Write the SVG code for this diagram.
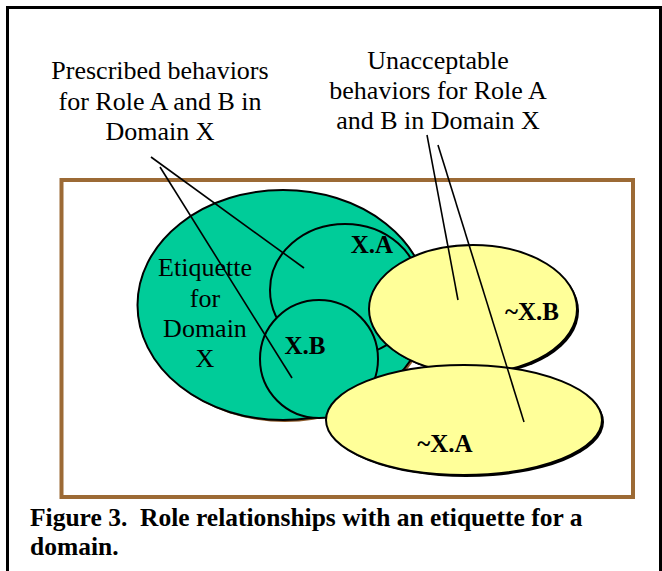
<svg xmlns="http://www.w3.org/2000/svg" width="662" height="571" viewBox="0 0 662 571">
<style>
.lbl{font-family:"Liberation Serif","Times New Roman",serif;font-size:26px;fill:#000;text-anchor:middle}
.bold{font-family:"Liberation Serif","Times New Roman",serif;font-size:25px;font-weight:bold;fill:#000;text-anchor:middle}
.cap{font-family:"Liberation Serif","Times New Roman",serif;font-size:25.5px;font-weight:bold;fill:#000;white-space:pre}
.green{fill:#00CC99;stroke:#000;stroke-width:2}
.yellow{fill:#FFFF99;stroke:#000;stroke-width:2}
.lead{stroke:#000;stroke-width:1.6;fill:none}
</style>
<rect x="0" y="0" width="662" height="571" fill="#fff"/>
<path d="M7.5 580 V7.5 H660.5 V580" fill="none" stroke="#000" stroke-width="3"/>
<rect x="61.5" y="180" width="571.5" height="317" fill="none" stroke="#9C6A35" stroke-width="4"/>
<g id="etiquette">
<ellipse cx="285" cy="307" rx="145.5" ry="115" fill="#8B5A2B"/>
<ellipse class="green" cx="283" cy="305" rx="145.5" ry="115"/>
<text class="lbl" x="205" y="276">Etiquette</text>
<text class="lbl" x="205" y="307">for</text>
<text class="lbl" x="205" y="337">Domain</text>
<text class="lbl" x="205" y="367">X</text>
</g>
<g id="xa">
<ellipse class="green" cx="345" cy="290" rx="75" ry="66"/>
<text class="bold" x="372" y="253">X.A</text>
</g>
<g id="xb">
<circle class="green" cx="319" cy="359" r="59"/>
<text class="bold" x="305" y="354">X.B</text>
</g>
<g id="notxb">
<ellipse cx="475" cy="311" rx="104" ry="64" fill="#000"/>
<ellipse class="yellow" cx="473" cy="309" rx="104" ry="64"/>
<text class="bold" x="532" y="320">~X.B</text>
</g>
<g id="notxa">
<ellipse cx="466" cy="422" rx="138" ry="55" fill="#000"/>
<ellipse class="yellow" cx="464" cy="420" rx="138" ry="55"/>
<text class="bold" x="445" y="452">~X.A</text>
</g>
<g id="prescribed">
<text class="lbl" x="160" y="79">Prescribed behaviors</text>
<text class="lbl" x="160" y="110">for Role A and B in</text>
<text class="lbl" x="160" y="140">Domain X</text>
</g>
<g id="unacceptable">
<text class="lbl" x="438" y="69">Unacceptable</text>
<text class="lbl" x="438" y="99">behaviors for Role A</text>
<text class="lbl" x="438" y="129">and B in Domain X</text>
</g>
<g id="connectors">
<line class="lead" x1="151" y1="157" x2="304" y2="268"/>
<line class="lead" x1="160" y1="167" x2="292" y2="378"/>
<line class="lead" x1="427" y1="135" x2="458" y2="300"/>
<line class="lead" x1="438" y1="145" x2="524" y2="422"/>
</g>
<g id="caption">
<text class="cap" x="30" y="526" xml:space="preserve">Figure 3.  Role relationships with an etiquette for a</text>
<text class="cap" x="30" y="555">domain.</text>
</g>
</svg>
